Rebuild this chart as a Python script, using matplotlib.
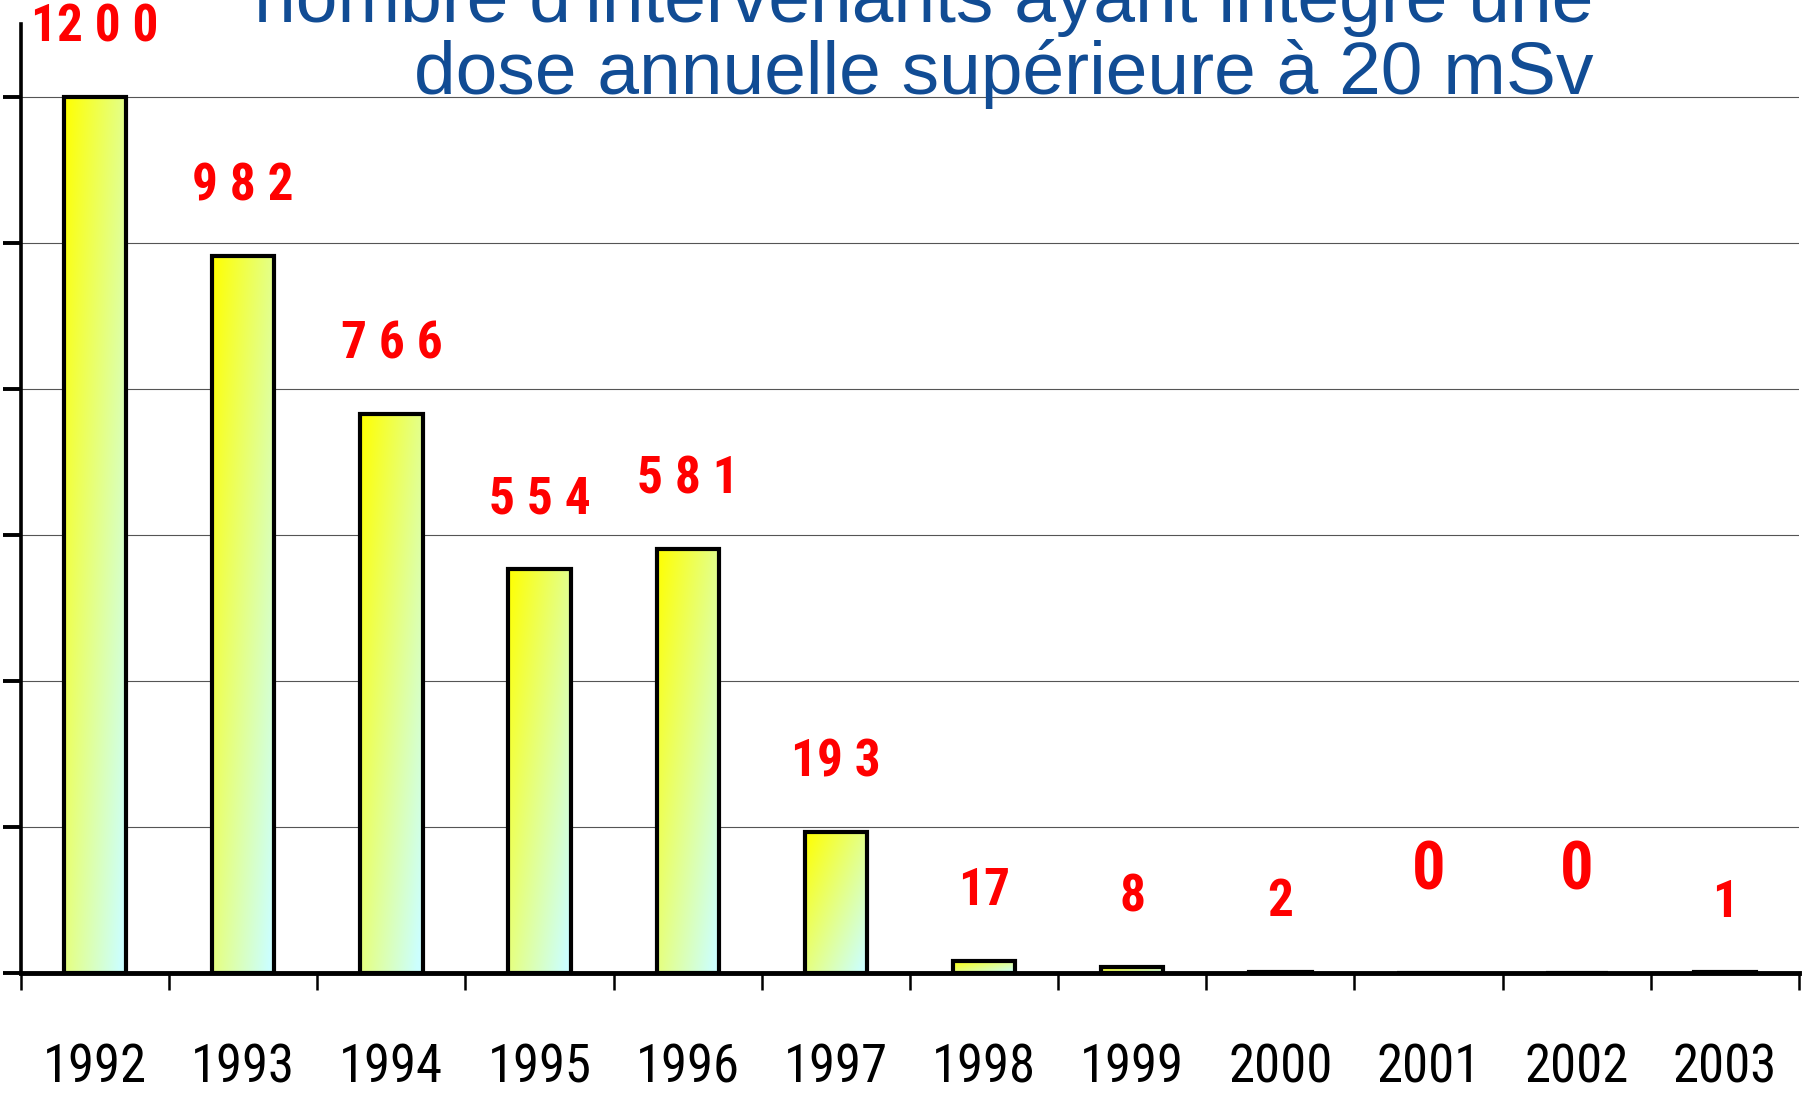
import numpy as np
import matplotlib
matplotlib.use("Agg")
import matplotlib.pyplot as plt
from matplotlib import font_manager as fm
from matplotlib.patches import Rectangle

# ---- data ----
years = ["1992", "1993", "1994", "1995", "1996", "1997",
         "1998", "1999", "2000", "2001", "2002", "2003"]
values = [1200, 982, 766, 554, 581, 193, 17, 8, 2, 0, 0, 1]
value_labels = ["12 0 0", "9 8 2", "7 6 6", "5 5 4", "5 8 1", "19 3",
                "17", "8", "2", "0", "0", "1"]
title_line1 = "nombre d'intervenants ayant intégré une"
title_line2 = "dose annuelle supérieure à 20 mSv"
grid_values = [200, 400, 600, 800, 1000, 1200]


def find_condensed(bold):
    prefs = ["liberationsansnarrow", "robotocondensed", "opensanscondensed",
             "notosanscondensed", "dejavusanscondensed", "condensed", "narrow"]
    files = [f.fname for f in fm.fontManager.ttflist]
    for p in prefs:
        for fn in files:
            base = fn.lower().replace("-", "").replace("_", "").split("/")[-1]
            if p not in base:
                continue
            if "italic" in base or "oblique" in base:
                continue
            isbold = "bold" in base
            if bold != isbold:
                continue
            if bold and ("semibold" in base or "extrabold" in base):
                continue
            if not bold and any(k in base for k in ["light", "thin", "medium", "black", "semi"]):
                continue
            return fm.FontProperties(fname=fn)
    return None


fp_bold = find_condensed(True)
fp_reg = find_condensed(False)
names = {f.name for f in fm.fontManager.ttflist}
regular = "Liberation Sans" if "Liberation Sans" in names else "DejaVu Sans"

fig = plt.figure(figsize=(18.1, 10.97), dpi=100)
ax = fig.add_axes([0.0116, 0.1130, 0.9823, 0.8651])

x = np.arange(len(years))
bars = ax.bar(x, values, width=0.42, facecolor="none", edgecolor="black",
              linewidth=3.0, zorder=3)

# gradient fill: yellow top-left -> pale cyan bottom-right
c0 = np.array([1.0, 1.0, 0.0])
c1 = np.array([0.80, 1.0, 1.0])
gx, gy = np.meshgrid(np.linspace(0, 1, 60), np.linspace(1, 0, 200))
t = np.clip(0.55 * gx + 0.5 * (1 - gy), 0, 1)
grad = c0[None, None, :] * (1 - t[..., None]) + c1[None, None, :] * t[..., None]
for b in bars:
    h = b.get_height()
    if h <= 0:
        continue
    x0 = b.get_x()
    w = b.get_width()
    im = ax.imshow(grad, extent=[x0, x0 + w, 0, h], aspect="auto",
                   origin="upper", zorder=2, interpolation="bilinear")
    clip = Rectangle((x0, 0), w, h, transform=ax.transData)
    im.set_clip_path(clip)

ax.set_xlim(-0.5, len(years) - 0.5)
ax.set_ylim(0, 1300)


def fprops(base, size, bold):
    if base is not None:
        p = base.copy()
        p.set_size(size)
        return p
    return fm.FontProperties(family="DejaVu Sans", size=size * 0.8,
                             weight="bold" if bold else "normal")


# value labels
for xi, v, lab in zip(x, values, value_labels):
    big = (v == 0)
    ax.annotate(lab, xy=(xi, v), xytext=(0, 73 if big else 50),
                textcoords="offset points", ha="center", va="center",
                color="#FF0000", fontproperties=fprops(fp_bold, 48 if big else 37, True),
                zorder=5)

# grid
ax.set_yticks([0] + grid_values)
ax.set_yticklabels([])
ax.yaxis.grid(True, color="#555555", linewidth=0.8, zorder=1)
ax.set_axisbelow(True)
ax.tick_params(axis="y", direction="out", length=13, width=2.8, left=True)

# x ticks: labels at centers, tick marks at boundaries
ax.set_xticks(x)
ax.set_xticklabels(years, fontproperties=fprops(fp_reg, 38, False))
ax.set_xticks(np.arange(-0.5, len(years), 1.0), minor=True)
ax.tick_params(axis="x", which="major", length=0, pad=50)
ax.tick_params(axis="x", which="minor", direction="out", length=12, width=1.8)

for s in ["top", "right"]:
    ax.spines[s].set_visible(False)
ax.spines["left"].set_linewidth(2.6)
ax.spines["bottom"].set_linewidth(3.5)
ax.spines["left"].set_zorder(4)
ax.spines["bottom"].set_zorder(4)

# title (two lines, right aligned, partly cut off at top)
tcol = "#114C94"
fig.text(1593 / 1810, 1 - 22 / 1097, title_line1, ha="right", va="baseline",
         fontsize=54, color=tcol, family=regular)
fig.text(1593 / 1810, 1 - 94 / 1097, title_line2, ha="right", va="baseline",
         fontsize=54, color=tcol, family=regular)

fig.savefig("out.png", dpi=100)
